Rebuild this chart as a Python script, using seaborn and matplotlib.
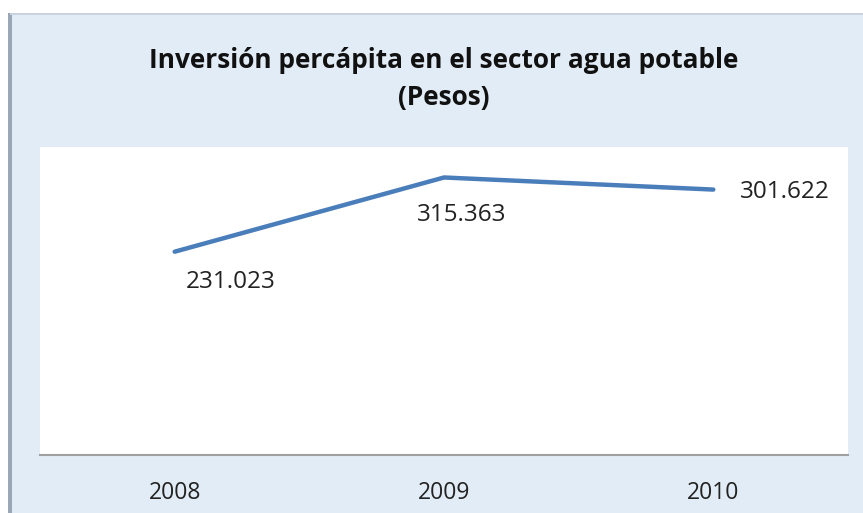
import matplotlib
matplotlib.use("Agg")
import matplotlib.pyplot as plt
import seaborn as sns
import pandas as pd
from matplotlib.patches import Rectangle

years = ["2008", "2009", "2010"]
values = [231.023, 315.363, 301.622]
labels = ["231.023", "315.363", "301.622"]
title = "Inversión percápita en el sector agua potable\n(Pesos)"

sns.set_style("white")
plt.rcParams['font.family'] = ['Open Sans', 'DejaVu Sans']

W, H = 863, 513
fig = plt.figure(figsize=(W / 100, H / 100), dpi=100)
fig.patch.set_facecolor("white")

# chart panel background
panel = Rectangle((10 / W, 0), 1 - 10 / W, 1 - 13 / H, transform=fig.transFigure,
                  facecolor="#e2ecf6", edgecolor="none", zorder=0)
fig.patches.append(panel)
edge = Rectangle((8 / W, 0), 4 / W, 1 - 13 / H, transform=fig.transFigure,
                 facecolor="#9aa6b6", edgecolor="none", zorder=1)
fig.patches.append(edge)
topedge = Rectangle((10 / W, 1 - 15 / H), 1 - 10 / W, 2 / H, transform=fig.transFigure,
                    facecolor="#c9d3df", edgecolor="none", zorder=1)
fig.patches.append(topedge)

ax = fig.add_axes([40 / W, 1 - 455 / H, 808 / W, 308 / H])
ax.set_zorder(5)
ax.set_facecolor("white")

df = pd.DataFrame({"year": years, "value": values})
sns.lineplot(data=df, x="year", y="value", ax=ax, color="#4a7ebb", linewidth=3.2,
             sort=False, solid_capstyle="round")

ax.set_xlim(-0.5, 2.5)
ax.set_ylim(0, 350)
ax.set_xlabel("")
ax.set_ylabel("")
ax.set_yticks([])
ax.tick_params(axis="x", length=0, labelsize=16.5, pad=19, colors="#222222")
for s in ["top", "left", "right"]:
    ax.spines[s].set_visible(False)
ax.spines["bottom"].set_color("#a0a0a0")
ax.spines["bottom"].set_linewidth(1.5)

# data labels
offsets = [(56, -30), (18, -38), (72, -2)]
for i, (v, lab) in enumerate(zip(values, labels)):
    ax.annotate(lab, (i, v), xytext=offsets[i], textcoords="offset pixels",
                ha="center", va="center", fontsize=17.5, color="#222222",
                annotation_clip=False)

fig.text(444 / W, 1 - 79 / H, title, ha="center", va="center", fontsize=18.9,
         fontweight="bold", color="#111111", linespacing=1.5, zorder=6)

fig.savefig("out.png", dpi=100, facecolor=fig.get_facecolor())
